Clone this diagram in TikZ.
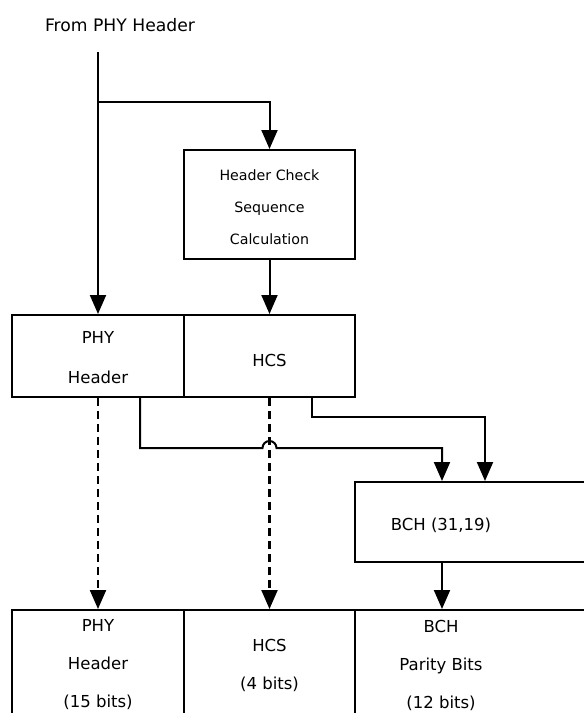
\documentclass[tikz,border=0pt]{standalone}
\usepackage{fontspec}
\setmainfont{DejaVu Sans}
\usetikzlibrary{arrows.meta}
\begin{document}
\begin{tikzpicture}[x=1pt,y=-1pt,
  box/.style={draw,line width=2pt,inner sep=0pt},
  txt/.style={align=center,font=\fontsize{16.5pt}{38pt}\selectfont,inner sep=0pt},
  small/.style={align=center,font=\fontsize{14.2pt}{32pt}\selectfont,inner sep=0pt},
  tip/.style={-{Triangle[length=19pt,width=16pt]}},
  flow/.style={line width=2pt,tip},
  dflow/.style={line width=2.2pt,dash pattern=on 8pt off 5pt,tip},
  plain/.style={line width=2pt}]
\useasboundingbox (0,0) rectangle (584,713);
\clip (0,0) rectangle (584,713);
% title
\node[anchor=base,font=\fontsize{17.2pt}{20pt}\selectfont,inner sep=0pt] (title) at (120,31) {From PHY Header};
\coordinate (src) at (98,52);
% header check sequence calculation
\node[box,minimum width=171pt,minimum height=109pt] (calc) at (269.5,204.5) {};
\node[small] (calct) at (269.5,207) {Header Check\\Sequence\\Calculation};
% top row
\node[box,minimum width=172pt,minimum height=82pt] (phy) at (98,356) {};
\node[box,minimum width=171pt,minimum height=82pt] (hcs) at (269.5,356) {};
\node[txt,font=\fontsize{16.5pt}{40pt}\selectfont] (phyt) at (98,358) {PHY\\Header};
\node[txt] (hcst) at (269.5,360) {HCS};
% BCH box
\node[box,minimum width=255pt,minimum height=80pt] (bch) at (482.5,522) {};
\node[txt] (bcht) at (441,525) {BCH (31,19)};
% bottom row
\node[box,minimum width=172pt,minimum height=130pt] (c1) at (98,675) {};
\node[box,minimum width=171pt,minimum height=130pt] (c2) at (269.5,675) {};
\node[box,minimum width=255pt,minimum height=130pt] (c3) at (482.5,675) {};
\node[txt] (c1t) at (98,665) {PHY\\Header\\(15 bits)};
\node[txt] (c2t) at (269.5,665) {HCS\\(4 bits)};
\node[txt] (c3t) at (441,665) {BCH\\Parity Bits\\(12 bits)};
% connectors
\draw[flow] (src) -- (phy.north);
\draw[flow] (src |- 0,102) -| (calc.north);
\draw[flow] (calc.south) -- (hcs.north);
\draw[dflow] (phy.south) -- (c1.north);
\draw[dflow] (hcs.south) -- (c2.north);
\draw[flow] ([xshift=42pt]phy.south) -- ([xshift=42pt]phy.south |- 0,448) -- (262.5,448)
   arc[start angle=180,end angle=0,radius=7pt] -- ([xshift=-40.5pt]bch.north |- 0,448) -- ([xshift=-40.5pt]bch.north);
\draw[flow] ([xshift=42.5pt]hcs.south) -- ([xshift=42.5pt]hcs.south |- 0,417) -- ([xshift=2.5pt]bch.north |- 0,417) -- ([xshift=2.5pt]bch.north);
\draw[flow] ([xshift=-40.5pt]bch.south) -- ([xshift=-40.5pt]bch.south |- c3.north);
\end{tikzpicture}
\end{document}
